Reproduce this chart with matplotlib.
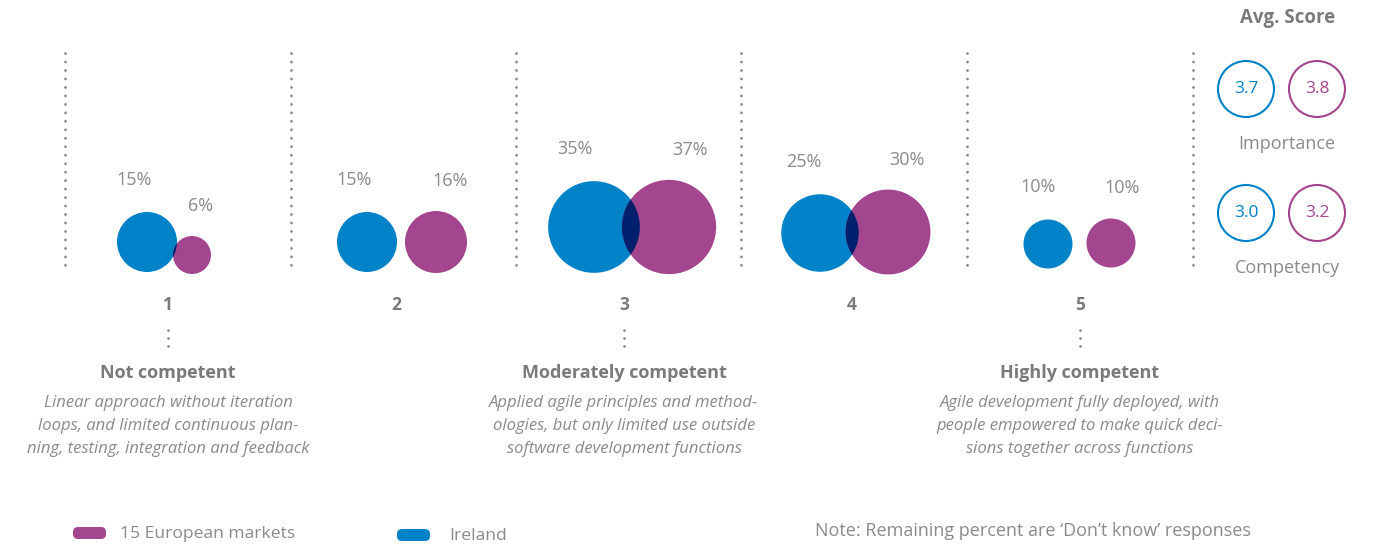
import numpy as np
import matplotlib
matplotlib.use('Agg')
import matplotlib.pyplot as plt
from matplotlib.patches import Circle, FancyBboxPatch

plt.rcParams['font.family'] = ['Open Sans', 'DejaVu Sans']

# share of respondents per competency level (percent)
levels = ['1', '2', '3', '4', '5']
ireland = [15, 15, 35, 25, 10]
europe = [6, 16, 37, 30, 10]

level_titles = {'1': 'Not competent', '3': 'Moderately competent', '5': 'Highly competent'}
level_desc = {
    '1': 'Linear approach without iteration\nloops, and limited continuous plan-\nning, testing, integration and feedback',
    '3': 'Applied agile principles and method-\nologies, but only limited use outside\nsoftware development functions',
    '5': 'Agile development fully deployed, with\npeople empowered to make quick deci-\nsions together across functions',
}

score_names = ['Importance', 'Competency']
score_ireland = [3.7, 3.0]
score_europe = [3.8, 3.2]

series_names = ['15 European markets', 'Ireland']

BLUE = '#0082c8'
PURPLE = '#a4468f'
NAVY = '#00206e'
GREY = '#8a8a8a'
DARK = '#7a7a7a'

# layout in pixel units
panel_x = [168, 396, 624, 852, 1080]
blue_dx = [-21, -29, -30, -32, -32]
purple_dx = [24, 40, 45, 36, 31]
blue_y = [242, 242, 227, 233, 244]
purple_y = [255, 242, 227, 232, 243]
sep_x = [65, 291, 516, 741, 967, 1193]
r_scale = 7.75  # radius per sqrt(percent)

fig = plt.figure(figsize=(13.74, 5.47), dpi=100)
ax = fig.add_axes([0, 0, 1, 1])
ax.set_xlim(0, 1374)
ax.set_ylim(547, 0)
ax.axis('off')

# dotted separators
for x in sep_x:
    ax.plot([x, x], [53, 271], color=GREY, lw=2, linestyle=(0, (0.05, 3.0)),
            dash_capstyle='round')

for i, lvl in enumerate(levels):
    cx = panel_x[i]
    rb = r_scale * np.sqrt(ireland[i])
    rp = r_scale * np.sqrt(europe[i])
    bx, px = cx + blue_dx[i], cx + purple_dx[i]
    by, py = blue_y[i], purple_y[i]

    blue_c = Circle((bx, by), rb, color=BLUE, lw=0)
    ax.add_patch(blue_c)
    ax.add_patch(Circle((px, py), rp, color=PURPLE, lw=0))
    # overlapping part drawn in navy
    lens = Circle((px, py), rp, color=NAVY, lw=0)
    ax.add_patch(lens)
    lens.set_clip_path(blue_c)

    ax.text(bx - 0.42 * rb, by - rb - 32, f'{ireland[i]}%', ha='center', va='center',
            fontsize=13, color=GREY)
    ax.text(px + 0.45 * rp, py - rp - 30, f'{europe[i]}%', ha='center', va='center',
            fontsize=13, color=GREY)

    ax.text(cx, 305, lvl, ha='center', va='center', fontsize=12.5, fontweight='bold', color=DARK)

    if lvl in level_titles:
        ax.plot([cx, cx], [330, 346], color=GREY, lw=2, linestyle=(0, (0.05, 2.8)),
                dash_capstyle='round')
        ax.text(cx, 373, level_titles[lvl], ha='center', va='center', fontsize=13,
                fontweight='bold', color=DARK)
        ax.text(cx, 426, level_desc[lvl], ha='center', va='center', fontsize=12,
                style='italic', color=GREY, linespacing=1.6)

# average score panel
ax.text(1288, 18, 'Avg. Score', ha='center', va='center', fontsize=13.4, fontweight='bold', color=DARK)
for j, name in enumerate(score_names):
    y = 89 + 124 * j
    ax.add_patch(Circle((1246, y), 28, fill=False, ec=BLUE, lw=1.5))
    ax.add_patch(Circle((1317, y), 28, fill=False, ec=PURPLE, lw=1.5))
    ax.text(1246, y, f'{score_ireland[j]:.1f}', ha='center', va='center', fontsize=12.5, color=BLUE)
    ax.text(1317, y, f'{score_europe[j]:.1f}', ha='center', va='center', fontsize=12.5, color=PURPLE)
    ax.text(1287, y + 55, name, ha='center', va='center', fontsize=13, color=GREY)

# legend
for (x0, tx, y, col, name) in [(72, 120, 533, PURPLE, series_names[0]),
                               (396, 449, 535, BLUE, series_names[1])]:
    ax.add_patch(FancyBboxPatch((x0 + 6, y - 1), 23, 2, boxstyle='round,pad=5',
                                fc=col, ec='none'))
    ax.text(tx, y + 1, name, ha='left', va='center', fontsize=12.6, color=GREY)

ax.text(1251, 531, 'Note: Remaining percent are \u2018Don\u2019t know\u2019 responses',
        ha='right', va='center', fontsize=13, color=GREY)

fig.savefig('out.png', dpi=100)
